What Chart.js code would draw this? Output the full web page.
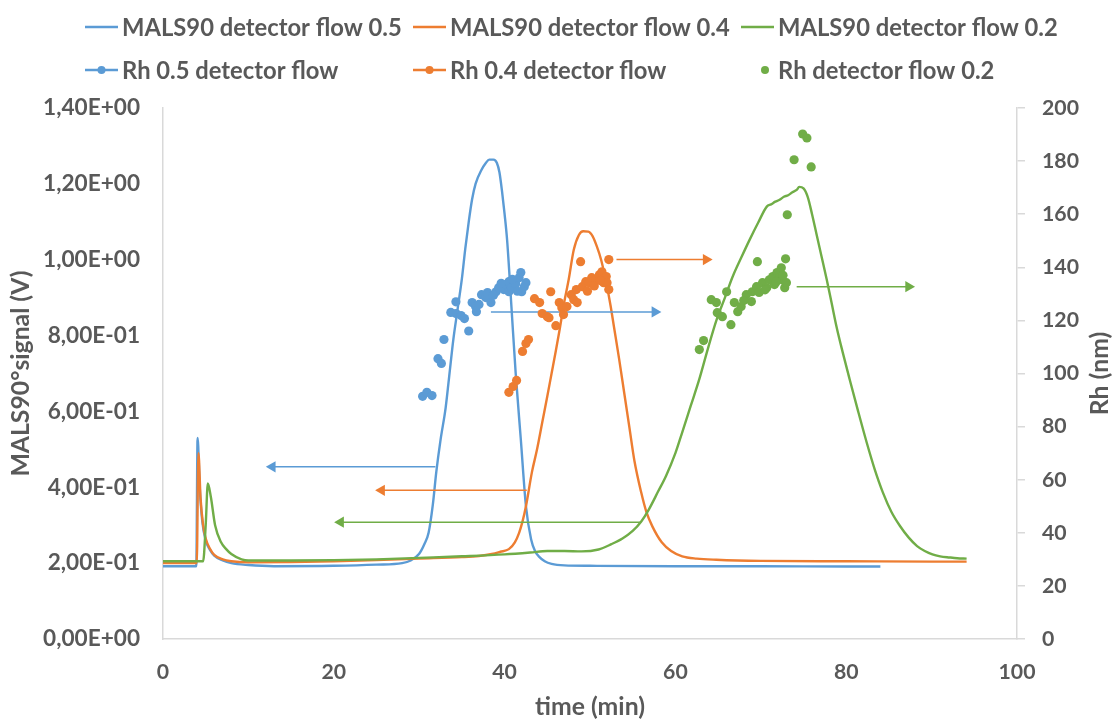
<!DOCTYPE html>
<html><head><meta charset="utf-8">
<script src="https://cdn.jsdelivr.net/npm/chart.js@4.4.1/dist/chart.umd.min.js"></script>
<style>html,body{margin:0;padding:0;background:#fff}canvas{display:block}</style>
</head><body>
<canvas id="c" width="1118" height="722"></canvas>
<script>
// ---------------- data ----------------
const seriesNames = ['MALS90 detector flow 0.5','MALS90 detector flow 0.4','MALS90 detector flow 0.2',
                     'Rh 0.5 detector flow','Rh 0.4 detector flow','Rh detector flow 0.2'];

const malsT05 = [0,3.9,4.05,4.3,4.6,5,5.5,6,7,8,10,13,20,25,28,29,30,30.6,31.1,31.6,32,32.5,33.1,33.5,34,34.5,35,35.4,35.8,36.2,36.6,37.3,37.8,38.2,38.7,39.1,39.4,39.7,40,40.3,40.8,41.3,41.9,42.5,43.1,43.6,44,44.7,45.5,47,50,60,70,80,84];
const malsV05 = [0.192,0.192,0.53,0.40,0.31,0.26,0.235,0.22,0.207,0.2,0.195,0.192,0.193,0.196,0.2,0.207,0.225,0.25,0.28,0.355,0.44,0.525,0.61,0.69,0.79,0.87,0.95,1.03,1.10,1.16,1.20,1.237,1.255,1.264,1.264,1.255,1.23,1.18,1.12,1.05,0.876,0.70,0.526,0.35,0.263,0.23,0.218,0.205,0.198,0.194,0.193,0.192,0.192,0.191,0.191];

const malsT04 = [0,3.95,4.15,4.4,4.7,5,5.5,6,7,8,10,15,20,25,30,35,37,38.5,39.5,40.5,41.2,41.7,42.1,42.5,43.2,43.8,44.4,45,45.5,46,46.4,47,47.5,48.1,48.7,49.2,49.8,50.3,50.8,51.3,51.9,52.4,52.8,53.4,54,54.6,55.2,56,56.6,57.3,58.4,59.5,60.8,62.5,64.8,70,80,90,94.1];
const malsV04 = [0.2,0.2,0.49,0.37,0.30,0.265,0.238,0.222,0.21,0.205,0.202,0.203,0.205,0.208,0.212,0.216,0.219,0.224,0.23,0.237,0.255,0.28,0.31,0.35,0.44,0.5,0.57,0.64,0.70,0.76,0.81,0.89,0.947,1.026,1.065,1.075,1.074,1.062,1.035,1.0,0.94,0.88,0.824,0.74,0.65,0.56,0.47,0.386,0.335,0.297,0.255,0.232,0.218,0.212,0.209,0.206,0.205,0.204,0.204];

const malsT02 = [0,4.7,5.0,5.25,5.6,6.1,6.8,7.4,8,9.2,10,15,20,25,30,35,40,43,45,47,49,51,52.5,53.8,55,56,56.9,58,58.9,60,60.8,61.8,62.8,63.8,64.8,65.8,66.7,67.7,68.7,69.7,70.7,71.2,71.7,72.2,72.7,73.2,73.7,74.2,74.5,75.0,75.5,76.0,76.5,77.1,77.7,78.3,78.9,79.6,80.4,81.4,82.4,83.3,84.3,85.3,86.3,87.3,88.3,89.2,90.1,91,92.1,93,94.1];
const malsV02 = [0.205,0.205,0.30,0.41,0.375,0.30,0.255,0.237,0.224,0.21,0.207,0.207,0.208,0.21,0.214,0.218,0.223,0.228,0.232,0.232,0.231,0.236,0.25,0.265,0.285,0.31,0.342,0.39,0.43,0.49,0.545,0.615,0.685,0.765,0.84,0.90,0.955,1.005,1.053,1.098,1.14,1.146,1.153,1.158,1.166,1.170,1.178,1.184,1.192,1.188,1.165,1.12,1.07,1.01,0.95,0.885,0.82,0.755,0.685,0.60,0.518,0.45,0.386,0.335,0.298,0.268,0.245,0.232,0.223,0.218,0.215,0.213,0.212];

const rhT05 = [30.4,30.9,31.5,32.2,32.6,32.9,33.7,34.3,34.3,34.9,35.3,35.8,36.2,36.6,36.7,37.0,37.3,37.8,38.0,38.4,39.0,39.3,39.9,40.1,40.5,40.5,40.8,41.3,41.7,41.9,42.0,42.3,42.5,38.7,39.6,40.9,41.5];
const rhV05 = [91.4,92.9,91.7,105.6,103.8,112.8,123.0,127.0,122.6,121.8,120.7,116.0,126.7,125.2,123.3,126.0,129.7,128.6,130.5,126.7,130.8,132.3,131.6,133.5,134.6,130.8,132.3,133.8,136.1,138.0,130.8,132.7,134.2,129.5,134.0,135.5,131.0];

const rhT04 = [40.5,41.0,41.4,42.1,42.5,42.8,43.5,44.1,44.4,45.0,45.2,46.0,45.4,46.4,46.7,46.9,47.3,47.8,48.1,48.5,48.4,49.1,49.5,49.9,50.2,50.7,51.1,51.4,51.9,51.6,52.0,52.2,48.9,52.2,49.7,50.5,51.2];
const rhV04 = [92.9,95.1,97.4,108.3,111.3,112.8,128.2,126.7,122.6,121.4,121.0,118.0,130.8,126.7,124.8,122.2,125.2,129.7,127.8,126.7,131.6,132.7,134.6,134.2,136.1,135.3,137.2,138.3,136.5,134.2,134.2,131.6,142.1,142.9,131.0,133.0,135.0];

const rhT02 = [62.8,63.3,64.2,64.8,64.9,65.5,66.5,66.0,66.9,67.3,67.7,68.3,68.9,69.0,69.5,69.8,70.2,70.7,71.0,71.4,71.6,71.9,72.2,72.4,72.8,72.5,73.0,69.6,72.9,73.1,73.9,75.9,74.9,75.4,68.0,70.5,71.8,72.6];
const rhV02 = [109.0,112.4,127.8,126.7,122.9,121.4,118.4,130.8,126.7,123.3,125.2,129.7,127.1,130.8,132.7,130.5,134.2,132.3,135.3,136.5,133.5,138.0,136.1,139.8,132.3,135.3,134.2,142.1,143.2,159.8,180.5,177.8,190.2,188.7,127.5,131.5,134.5,137.0];

// annotation arrows: [start, end] in time, level, axis
const arrowT    = [[31.9,12.8],[42.6,25.6],[56.0,20.8],[38.4,57.6],[53.1,63.6],[74.2,87.3]];
const arrowLvl  = [0.454,0.392,0.308,123.2,142.9,132.7];
const arrowAxis = ['y','y','y','y2','y2','y2'];
const arrowSer  = [0,1,2,0,1,2];

const xTicks = [0,20,40,60,80,100];
const xTickLabels = ['0','20','40','60','80','100'];
const leftTicks = [0,0.2,0.4,0.6,0.8,1.0,1.2,1.4];
const leftTickLabels = ['0,00E+00','2,00E-01','4,00E-01','6,00E-01','8,00E-01','1,00E+00','1,20E+00','1,40E+00'];
const rightTicks = [0,20,40,60,80,100,120,140,160,180,200];
const rightTickLabels = ['0','20','40','60','80','100','120','140','160','180','200'];
const axisTitles = {x: 'time (min)', y: 'MALS90°signal (V)', y2: 'Rh (nm)'};

// ---------------- style ----------------
const COLORS = ['#5B9BD5','#ED7D31','#70AD47'];
const TEXT = '#595959';
const AXIS = '#D9D9D9';
const FONT = "Lato, 'Open Sans', sans-serif";
const W = 'bold';

const mctx = document.createElement('canvas').getContext('2d');
function fit(text, target){ mctx.font = W + ' 100px ' + FONT; return 100*target/mctx.measureText(text).width; }
const SZ_LEFT = fit('1,40E+00', 97);
const SZ_NUM = fit('100', 37);
const SZ_LEG = fit('MALS90 detector flow 0.5', 280);
const SZ_TITLE = fit('time (min)', 110);

const pts = (t, v) => t.map((x, i) => ({x: x, y: v[i]}));

const datasets = [];
[[malsT05,malsV05],[malsT04,malsV04],[malsT02,malsV02]].forEach((s, i) => {
  datasets.push({type:'line', label: seriesNames[i], data: pts(s[0], s[1]), borderColor: COLORS[i],
    borderWidth: 2.4, pointRadius: 0, cubicInterpolationMode: 'monotone', yAxisID: 'y', order: 6 - i, fill:false});
});
[[rhT05,rhV05],[rhT04,rhV04],[rhT02,rhV02]].forEach((s, i) => {
  datasets.push({type:'scatter', label: seriesNames[3+i], data: pts(s[0], s[1]), backgroundColor: COLORS[i],
    borderWidth: 0, pointRadius: 4.6, yAxisID: 'y2', order: 0});
});
arrowT.forEach((a, i) => {
  const right = a[1] > a[0];
  datasets.push({type:'line', label: 'arrow', data: [{x:a[0], y:arrowLvl[i]},{x:a[1], y:arrowLvl[i]}],
    borderColor: COLORS[arrowSer[i]], borderWidth: 1.5, yAxisID: arrowAxis[i], order: 1,
    pointRadius: [0, 6.5], pointStyle: 'triangle', pointRotation: [0, right ? 90 : -90],
    pointBackgroundColor: COLORS[arrowSer[i]], pointBorderWidth: 0, pointHoverRadius: 0});
});

const LEG_X = [85, 413, 741];
const LEG_Y = [27, 70];
const legendPlugin = {
  id: 'fixedLegend',
  afterDraw(chart) {
    const ctx = chart.ctx;
    ctx.save();
    ctx.font = W + ' ' + SZ_LEG + 'px ' + FONT;
    ctx.textBaseline = 'middle';
    ctx.textAlign = 'left';
    for (let i = 0; i < 6; i++) {
      const col = i % 3, row = Math.floor(i / 3);
      const x0 = LEG_X[col], y = LEG_Y[row];
      const c = COLORS[col];
      ctx.strokeStyle = c; ctx.fillStyle = c;
      if (i < 5) {
        ctx.lineWidth = 2.4;
        ctx.beginPath(); ctx.moveTo(x0, y); ctx.lineTo(x0 + 33, y); ctx.stroke();
      }
      if (i >= 3) {
        ctx.beginPath(); ctx.arc(x0 + (i === 5 ? 24 : 16.5), y, 4, 0, Math.PI * 2); ctx.fill();
      }
      ctx.fillStyle = TEXT;
      ctx.fillText(chart.data.datasets[i].label, x0 + 37, y + 1);
    }
    // secondary axis title, reading bottom-to-top
    const s = chart.scales.y2;
    ctx.font = W + ' ' + SZ_TITLE + 'px ' + FONT;
    ctx.textAlign = 'center';
    ctx.translate(s.right - 18, (s.top + s.bottom) / 2);
    ctx.rotate(-Math.PI / 2);
    ctx.fillText(axisTitles.y2, 0, 0);
    ctx.restore();
  }
};

const tickFont = s => ({family: FONT, size: s, weight: W});

new Chart(document.getElementById('c'), {
  data: {datasets: datasets},
  options: {
    responsive: false, animation: false, devicePixelRatio: 1,
    layout: {padding: {top: 108, left: 0, right: 0, bottom: 0}},
    plugins: {legend: {display: false}, tooltip: {enabled: false}},
    events: [],
    scales: {
      x: {type: 'linear', position: 'bottom', min: 0, max: 100,
        afterBuildTicks: s => { s.ticks = xTicks.map(v => ({value: v})); },
        afterFit: s => { s.height = 83; },
        ticks: {callback: (v, i) => xTickLabels[i], font: tickFont(SZ_NUM), color: TEXT, padding: 20, maxRotation: 0, autoSkip: false},
        grid: {display: false, drawTicks: false},
        border: {display: true, color: AXIS, width: 1.5},
        title: {display: true, text: axisTitles.x, color: TEXT, font: {family: FONT, size: SZ_TITLE, weight: W, lineHeight: 1.2}, padding: {top: 0, bottom: 0}}
      },
      y: {type: 'linear', position: 'left', min: 0, max: 1.4,
        afterBuildTicks: s => { s.ticks = leftTicks.map(v => ({value: v})); },
        afterFit: s => { s.width = 163; },
        ticks: {callback: (v, i) => leftTickLabels[i], font: tickFont(SZ_LEFT), color: TEXT, padding: 23, autoSkip: false},
        grid: {display: false, drawTicks: false},
        border: {display: true, color: AXIS, width: 1.5},
        title: {display: true, text: axisTitles.y, color: TEXT, font: {family: FONT, size: SZ_TITLE, weight: W, lineHeight: 1.2}, padding: {top: 6, bottom: 0}}
      },
      y2: {type: 'linear', position: 'right', min: 0, max: 200,
        afterBuildTicks: s => { s.ticks = rightTicks.map(v => ({value: v})); },
        afterFit: s => { s.width = 101; },
        ticks: {callback: (v, i) => rightTickLabels[i], font: tickFont(SZ_NUM), color: TEXT, padding: 17, autoSkip: false},
        grid: {display: true, drawOnChartArea: false, drawTicks: true, tickLength: 8, color: AXIS, lineWidth: 1.5},
        border: {display: true, color: AXIS, width: 1.5},
        title: {display: false}
      }
    }
  },
  plugins: [legendPlugin]
});
</script>
</body></html>
